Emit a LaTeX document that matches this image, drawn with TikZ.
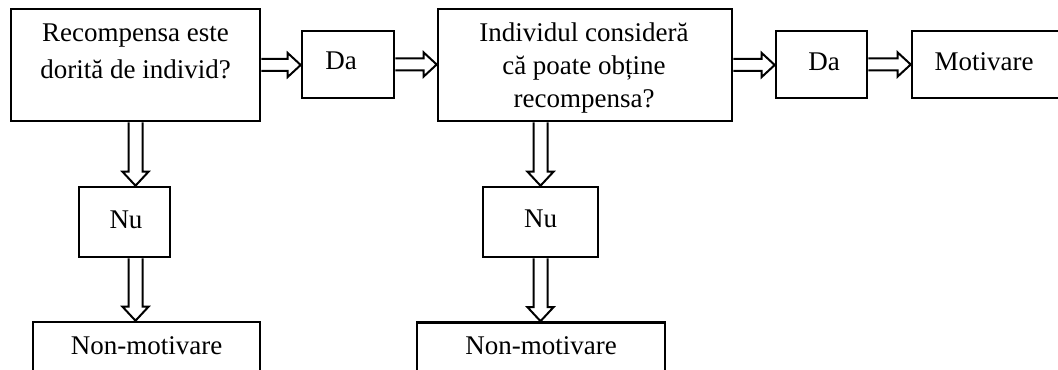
\documentclass[tikz,border=0pt]{standalone}
\usepackage{fontspec}
\setmainfont{Liberation Serif}
\usetikzlibrary{calc}
\newcommand\harr[2]{\draw[arr] let \p1=(#1), \p2=(#2) in (\x1,\y1+3pt) -- (\x2-6.5pt,\y1+3pt) -- (\x2-6.5pt,\y1+6pt) -- (\x2,\y1) -- (\x2-6.5pt,\y1-6pt) -- (\x2-6.5pt,\y1-3pt) -- (\x1,\y1-3pt);}
\newcommand\varr[3]{\draw[arr] let \p0=(#1), \p1=(#2), \p2=(#3) in (\x0-3.5pt,\y1) -- (\x0-3.5pt,\y2+7pt) -- (\x0-6.5pt,\y2+7pt) -- (\x0,\y2) -- (\x0+6.5pt,\y2+7pt) -- (\x0+3.5pt,\y2+7pt) -- (\x0+3.5pt,\y1);}
\begin{document}
\begin{tikzpicture}[x=0.5pt,y=-0.5pt,
  box/.style={draw,line width=1.3pt,inner sep=0pt,font=\fontsize{13.5}{17}\selectfont},
  txta/.style={inner sep=0pt,align=center,font=\fontsize{13.5}{18.5}\selectfont},
  txtb/.style={inner sep=0pt,align=center,font=\fontsize{13.5}{16.5}\selectfont},
  arr/.style={draw,line width=1pt,line join=miter}]
\useasboundingbox (0,0) rectangle (1058,369);
\clip (0,0) rectangle (1058,369);
\fill[white] (0,0) rectangle (1058,369);
% top row
\node[box,minimum width=124.5pt,minimum height=56pt] (b1) at (135.5,65) {};
\node[txta,anchor=north] (t1) at (135.5,23) {Recompensa este\\dorită de individ?};
\node[box,minimum width=46pt,minimum height=33.5pt] (da1) at (348,64.5) {\hspace*{-7pt}\raisebox{4.2pt}{Da}};
\node[box,minimum width=147pt,minimum height=56pt] (b2) at (585,65) {};
\node[txtb,anchor=north] (t2) at (584,22) {Individul consideră\\că poate obține\\recompensa?};
\node[box,minimum width=45.5pt,minimum height=33.5pt] (da2) at (821.5,64.5) {\hspace*{2.5pt}\raisebox{3pt}{Da}};
\node[box,minimum width=75pt,minimum height=33.5pt] (mot) at (987,64.5) {\hspace*{-3pt}\raisebox{2.75pt}{Motivare}};
% left column
\node[box,minimum width=45.5pt,minimum height=35pt] (nu1) at (124.5,222) {\hspace*{1.5pt}\raisebox{2.5pt}{Nu}};
\node[box,minimum width=113.5pt,minimum height=26pt] (nm1) at (146.5,348) {\raisebox{2.5pt}{Non-motivare}};
% right column
\node[box,minimum width=57.5pt,minimum height=35pt] (nu2) at (540.5,222) {\raisebox{3pt}{Nu}};
\node[box,minimum width=124pt,minimum height=26pt] (nm2) at (541,348.5) {\raisebox{2.5pt}{Non-motivare}};
% arrows
\harr{b1.east}{da1.west}
\harr{da1.east}{b2.west}
\harr{b2.east}{da2.west}
\harr{da2.east}{mot.west}
\varr{b1.south}{b1.south}{nu1.north}
\varr{b1.south}{nu1.south}{nm1.north}
\varr{nu2.north}{b2.south}{nu2.north}
\varr{nu2.north}{nu2.south}{nm2.north}
\end{tikzpicture}
\end{document}
